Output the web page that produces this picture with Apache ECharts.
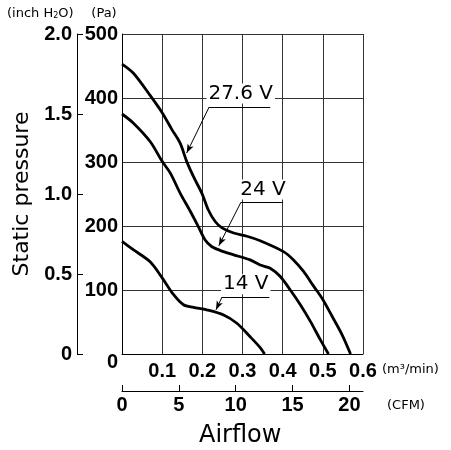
<!DOCTYPE html>
<html>
<head>
<meta charset="utf-8">
<script src="https://cdn.jsdelivr.net/npm/echarts@6/dist/echarts.min.js"></script>
<style>
  html, body { margin: 0; padding: 0; background: #fff; }
  #main { width: 451px; height: 450px; }
</style>
</head>
<body>
<div id="main"></div>
<script>
// airflow (m3/min) vs static pressure (Pa)
const flow276 = [0, 0.028, 0.07, 0.1, 0.124, 0.145, 0.161, 0.178, 0.199, 0.215, 0.232, 0.249, 0.278, 0.311, 0.344, 0.402, 0.427, 0.452, 0.477, 0.498, 0.523, 0.548, 0.569]
const pres276 = [453, 439, 404, 377, 351, 329, 301, 277, 251, 225, 207, 197, 189, 184, 177, 160, 147, 129, 106, 87, 59, 30, 0]

const flow24 = [0, 0.028, 0.07, 0.1, 0.12, 0.145, 0.17, 0.19, 0.207, 0.223, 0.244, 0.278, 0.319, 0.344, 0.369, 0.394, 0.419, 0.444, 0.469, 0.494, 0.514]
const pres24 = [375, 361, 332, 301, 283, 251, 223, 199, 178, 168, 162, 155, 147, 139, 134, 121, 100, 77, 51, 22, 0]

const flow14 = [0, 0.028, 0.07, 0.1, 0.128, 0.153, 0.178, 0.211, 0.253, 0.286, 0.319, 0.344, 0.355]
const pres14 = [176, 163, 144, 119, 93, 77, 73, 69, 61, 48, 27, 10, 0]

// voltage labels, their underline and the arrow tip on the curve (data coords)
const voltLabels = ['27.6 V', '24 V', '14 V']
const labelPos = [[0.2955, 407], [0.351, 257], [0.308, 109]]
const underline = [[0.217, 0.369, 386], [0.296, 0.401, 237], [0.249, 0.367, 89]]
const arrowTip = [[0.161, 314], [0.241, 169], [0.234, 69]]

const cfmTicks = [0, 5, 10, 15, 20]
const CFM_MAX = 0.6 * 35.3147

const tickFont = "'Liberation Sans Narrow', 'Liberation Sans', Arial, sans-serif"
const textFont = "'DejaVu Sans', sans-serif"

function zip(xs, ys) {
  return xs.map((x, i) => [x, ys[i]])
}

function annotation(i) {
  const u = underline[i]
  return {
    markLine: {
      silent: true,
      symbol: ['none', 'none'],
      lineStyle: { color: '#000', width: 1, type: 'solid' },
      label: { show: false },
      data: [
        [{ coord: [u[0], u[2]] }, { coord: [u[1], u[2]] }],
        [{ coord: [u[0], u[2]], symbol: 'none' },
         { coord: arrowTip[i], symbol: 'arrow', symbolSize: [5, 9] }]
      ]
    },
    markPoint: {
      silent: true,
      symbol: 'circle',
      symbolSize: 0,
      label: {
        show: true,
        position: 'inside',
        formatter: voltLabels[i],
        color: '#000',
        fontFamily: textFont,
        fontSize: 20,
        backgroundColor: '#fff',
        padding: [0, 2]
      },
      data: [{ coord: labelPos[i] }]
    }
  }
}

function curve(name, xs, ys, i) {
  return Object.assign({
    name: name,
    type: 'line',
    xAxisIndex: 0,
    yAxisIndex: 0,
    data: zip(xs, ys),
    showSymbol: false,
    smooth: 0.3,
    lineStyle: { color: '#000', width: 2.8 },
    z: 3
  }, annotation(i))
}

const smallText = { fontFamily: textFont, fontSize: 13, fontWeight: 'normal', color: '#000' }

let myChart = echarts.init(document.getElementById('main'))
let option
option = {
  animation: false,
  backgroundColor: '#fff',
  title: [
    {
      text: '(inch H{s|2}O)',
      left: 7,
      top: 7,
      padding: 0,
      textStyle: Object.assign({}, smallText, {
        rich: { s: { fontFamily: textFont, fontSize: 8, color: '#000', padding: [5, 0, 0, 0] } }
      })
    },
    { text: '(m³/min)', left: 382, top: 363, padding: 0, textStyle: smallText },
    { text: '(CFM)', left: 387, top: 399, padding: 0, textStyle: smallText },
    {
      text: 'Airflow',
      left: 199,
      top: 424,
      padding: 0,
      textStyle: { fontFamily: textFont, fontSize: 24, fontWeight: 'normal', color: '#000' }
    }
  ],
  grid: { left: 122, right: 88, top: 34, bottom: 96 },
  xAxis: [
    {
      type: 'value',
      position: 'bottom',
      min: 0,
      max: 0.6,
      interval: 0.1,
      axisLine: { lineStyle: { color: '#000', width: 1 } },
      axisTick: { show: false },
      axisLabel: {
        margin: 7,
        color: '#000',
        fontFamily: tickFont,
        fontSize: 20,
        fontWeight: 'bold',
        formatter: v => v === 0 ? '' : v.toFixed(1)
      },
      splitLine: { show: true, lineStyle: { color: '#333', width: 1 } }
    },
    {
      type: 'value',
      position: 'bottom',
      offset: 37,
      min: 0,
      max: CFM_MAX,
      axisLine: { show: true, onZero: false, lineStyle: { color: '#000', width: 1 } },
      axisTick: { show: true, inside: true, length: 6, customValues: cfmTicks, lineStyle: { color: '#000' } },
      axisLabel: {
        margin: 4,
        color: '#000',
        fontFamily: tickFont,
        fontSize: 20,
        fontWeight: 'bold',
        customValues: cfmTicks,
        formatter: v => String(v)
      },
      splitLine: { show: false }
    }
  ],
  yAxis: [
    {
      type: 'value',
      position: 'left',
      min: 0,
      max: 500,
      interval: 100,
      name: '(Pa)',
      nameLocation: 'end',
      nameGap: 14,
      nameTextStyle: { fontFamily: textFont, fontSize: 13, color: '#000', padding: [0, 36, 0, 0] },
      axisLine: { show: true, lineStyle: { color: '#000', width: 1 } },
      axisTick: { show: false },
      axisLabel: {
        margin: 4,
        color: '#000',
        fontFamily: tickFont,
        fontSize: 20,
        fontWeight: 'bold',
        formatter: v => v === 0 ? '{z|0}' : String(v),
        rich: { z: { fontFamily: tickFont, fontSize: 20, fontWeight: 'bold', color: '#000', padding: [17, 0, 0, 0] } }
      },
      splitLine: { show: true, lineStyle: { color: '#333', width: 1 } }
    },
    {
      type: 'value',
      position: 'left',
      offset: 45,
      min: 0,
      max: 2.0,
      interval: 0.5,
      name: 'Static pressure',
      nameLocation: 'middle',
      nameGap: 31,
      nameTextStyle: { fontFamily: textFont, fontSize: 22, color: '#000' },
      axisLine: { show: true, onZero: false, lineStyle: { color: '#000', width: 1 } },
      axisTick: { show: true, inside: true, length: 6, lineStyle: { color: '#000' } },
      axisLabel: {
        margin: 5,
        color: '#000',
        fontFamily: tickFont,
        fontSize: 20,
        fontWeight: 'bold',
        formatter: v => v === 0 ? '0' : v.toFixed(1)
      },
      splitLine: { show: false }
    }
  ],
  series: [
    curve('27.6 V', flow276, pres276, 0),
    curve('24 V', flow24, pres24, 1),
    curve('14 V', flow14, pres14, 2)
  ]
}

option && myChart.setOption(option)
</script>
</body>
</html>
